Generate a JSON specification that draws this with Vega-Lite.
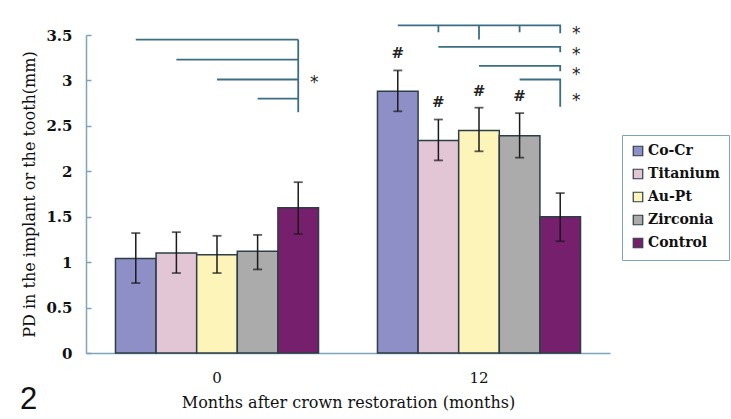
{
  "$schema": "https://vega.github.io/schema/vega-lite/v6.json",
  "width": 524,
  "height": 318,
  "autosize": {"type": "none"},
  "padding": {"left": 86, "top": 35, "right": 121, "bottom": 66},
  "background": "white",
  "title": {"text": "2", "orient": "bottom", "anchor": "start", "frame": "group", "font": "Liberation Sans", "fontSize": 31, "fontWeight": "normal", "color": "#111", "dx": -66, "offset": -25},
  "datasets": {
    "bars": [
      {"month": "0", "material": "Co-Cr", "v": 1.04, "lo": 0.77, "hi": 1.32},
      {"month": "0", "material": "Titanium", "v": 1.10, "lo": 0.88, "hi": 1.33},
      {"month": "0", "material": "Au-Pt", "v": 1.08, "lo": 0.88, "hi": 1.29},
      {"month": "0", "material": "Zirconia", "v": 1.12, "lo": 0.92, "hi": 1.30},
      {"month": "0", "material": "Control", "v": 1.60, "lo": 1.31, "hi": 1.88},
      {"month": "12", "material": "Co-Cr", "v": 2.88, "lo": 2.66, "hi": 3.11},
      {"month": "12", "material": "Titanium", "v": 2.34, "lo": 2.12, "hi": 2.57},
      {"month": "12", "material": "Au-Pt", "v": 2.45, "lo": 2.22, "hi": 2.70},
      {"month": "12", "material": "Zirconia", "v": 2.39, "lo": 2.15, "hi": 2.64},
      {"month": "12", "material": "Control", "v": 1.50, "lo": 1.23, "hi": 1.76}
    ],
    "brackets": [
      {"id": "a", "k": 1, "month": "0", "material": "Co-Cr", "v": 3.45},
      {"id": "a", "k": 2, "month": "0", "material": "Control", "v": 3.45},
      {"id": "b", "k": 1, "month": "0", "material": "Titanium", "v": 3.23},
      {"id": "b", "k": 2, "month": "0", "material": "Control", "v": 3.23},
      {"id": "c", "k": 1, "month": "0", "material": "Au-Pt", "v": 3.01},
      {"id": "c", "k": 2, "month": "0", "material": "Control", "v": 3.01},
      {"id": "d", "k": 1, "month": "0", "material": "Zirconia", "v": 2.80},
      {"id": "d", "k": 2, "month": "0", "material": "Control", "v": 2.80},
      {"id": "e", "k": 1, "month": "0", "material": "Control", "v": 3.45},
      {"id": "e", "k": 2, "month": "0", "material": "Control", "v": 2.65},
      {"id": "f", "k": 1, "month": "12", "material": "Co-Cr", "v": 3.605},
      {"id": "f", "k": 2, "month": "12", "material": "Control", "v": 3.605},
      {"id": "f", "k": 3, "month": "12", "material": "Control", "v": 3.52},
      {"id": "g", "k": 1, "month": "12", "material": "Titanium", "v": 3.605},
      {"id": "g", "k": 2, "month": "12", "material": "Titanium", "v": 3.53},
      {"id": "h", "k": 1, "month": "12", "material": "Au-Pt", "v": 3.605},
      {"id": "h", "k": 2, "month": "12", "material": "Au-Pt", "v": 3.45},
      {"id": "i", "k": 1, "month": "12", "material": "Zirconia", "v": 3.605},
      {"id": "i", "k": 2, "month": "12", "material": "Zirconia", "v": 3.53},
      {"id": "j", "k": 1, "month": "12", "material": "Titanium", "v": 3.37},
      {"id": "j", "k": 2, "month": "12", "material": "Control", "v": 3.37},
      {"id": "j", "k": 3, "month": "12", "material": "Control", "v": 3.31},
      {"id": "m", "k": 1, "month": "12", "material": "Au-Pt", "v": 3.16},
      {"id": "m", "k": 2, "month": "12", "material": "Control", "v": 3.16},
      {"id": "m", "k": 3, "month": "12", "material": "Control", "v": 3.10},
      {"id": "l", "k": 1, "month": "12", "material": "Zirconia", "v": 3.01},
      {"id": "l", "k": 2, "month": "12", "material": "Control", "v": 3.01},
      {"id": "l", "k": 3, "month": "12", "material": "Control", "v": 2.71}
    ],
    "stars": [
      {"month": "0", "material": "Control", "v": 3.02, "t": "*"},
      {"month": "12", "material": "Control", "v": 3.56, "t": "*"},
      {"month": "12", "material": "Control", "v": 3.325, "t": "*"},
      {"month": "12", "material": "Control", "v": 3.105, "t": "*"},
      {"month": "12", "material": "Control", "v": 2.82, "t": "*"}
    ]
  },
  "encoding": {
    "x": {
      "field": "month", "type": "nominal",
      "scale": {"domain": ["0", "12"], "paddingInner": 0.225, "paddingOuter": 0.1125},
      "axis": {
        "title": "Months after crown restoration (months)",
        "labelAngle": 0, "ticks": false, "domainColor": "#7ea3bb", "domainWidth": 1.5,
        "labelFont": "DejaVu Serif", "labelFontSize": 15, "labelFontWeight": "normal", "labelColor": "#111",
        "labelPadding": 17,
        "titleFont": "DejaVu Serif", "titleFontSize": 16, "titleFontWeight": "normal", "titleColor": "#111",
        "titlePadding": 9
      }
    },
    "xOffset": {
      "field": "material", "type": "nominal",
      "scale": {"domain": ["Co-Cr", "Titanium", "Au-Pt", "Zirconia", "Control"], "paddingInner": 0, "paddingOuter": 0}
    }
  },
  "layer": [
    {
      "data": {"name": "bars"},
      "mark": {"type": "bar", "stroke": "#2c3f44", "strokeWidth": 1.5},
      "encoding": {
        "y": {
          "field": "v", "type": "quantitative",
          "scale": {"domain": [0, 3.5], "nice": false},
          "axis": {
            "title": "PD in the implant or the tooth(mm)",
            "values": [0, 0.5, 1, 1.5, 2, 2.5, 3, 3.5], "format": "~g",
            "grid": false, "domainColor": "#7ea3bb", "domainWidth": 1.5,
            "tickColor": "#7ea3bb", "tickSize": -5, "tickWidth": 1.5,
            "labelFont": "DejaVu Serif", "labelFontSize": 15, "labelFontWeight": "bold", "labelColor": "#111",
            "labelPadding": 19,
            "titleFont": "DejaVu Serif", "titleFontSize": 16, "titleFontWeight": "normal", "titleColor": "#111",
            "titlePadding": 8
          }
        },
        "color": {
          "field": "material", "type": "nominal",
          "scale": {"domain": ["Co-Cr", "Titanium", "Au-Pt", "Zirconia", "Control"], "range": ["#8f8fc8", "#e3c6d6", "#fcf4b9", "#ababab", "#761f6c"]},
          "legend": {
            "title": null, "orient": "none", "legendX": 536, "legendY": 100,
            "strokeColor": "#7ea3bb", "padding": 9, "fillColor": "white",
            "symbolType": "square", "symbolSize": 90, "symbolStrokeColor": "#2c3f44", "symbolStrokeWidth": 1.2,
            "labelFont": "DejaVu Serif", "labelFontSize": 14, "labelFontWeight": "bold", "labelColor": "#111",
            "labelOffset": 3, "rowPadding": 7
          }
        }
      }
    },
    {
      "data": {"name": "bars"},
      "mark": {"type": "rule", "color": "#1a1a1a", "strokeWidth": 1.5},
      "encoding": {
        "y": {"field": "lo", "type": "quantitative"},
        "y2": {"field": "hi"}
      }
    },
    {
      "data": {"name": "bars"},
      "mark": {"type": "tick", "color": "#1a1a1a", "size": 9, "thickness": 1.8},
      "encoding": {"y": {"field": "lo", "type": "quantitative"}}
    },
    {
      "data": {"name": "bars"},
      "mark": {"type": "tick", "color": "#1a1a1a", "size": 9, "thickness": 1.8},
      "encoding": {"y": {"field": "hi", "type": "quantitative"}}
    },
    {
      "data": {"name": "bars"},
      "transform": [{"filter": "datum.month == '12' && datum.material != 'Control'"}],
      "mark": {"type": "text", "text": "#", "font": "DejaVu Serif", "fontSize": 15, "fontWeight": "bold", "color": "#222", "dy": -17},
      "encoding": {"y": {"field": "hi", "type": "quantitative"}}
    },
    {
      "data": {"name": "brackets"},
      "mark": {"type": "line", "color": "#3d6e80", "strokeWidth": 1.8},
      "encoding": {
        "y": {"field": "v", "type": "quantitative"},
        "detail": {"field": "id"},
        "order": {"field": "k", "type": "quantitative"}
      }
    },
    {
      "data": {"name": "stars"},
      "mark": {"type": "text", "font": "DejaVu Sans", "fontSize": 17, "color": "#222", "dx": 16, "dy": 4},
      "encoding": {
        "y": {"field": "v", "type": "quantitative"},
        "text": {"field": "t"}
      }
    }
  ],
  "config": {"view": {"stroke": null}}
}
